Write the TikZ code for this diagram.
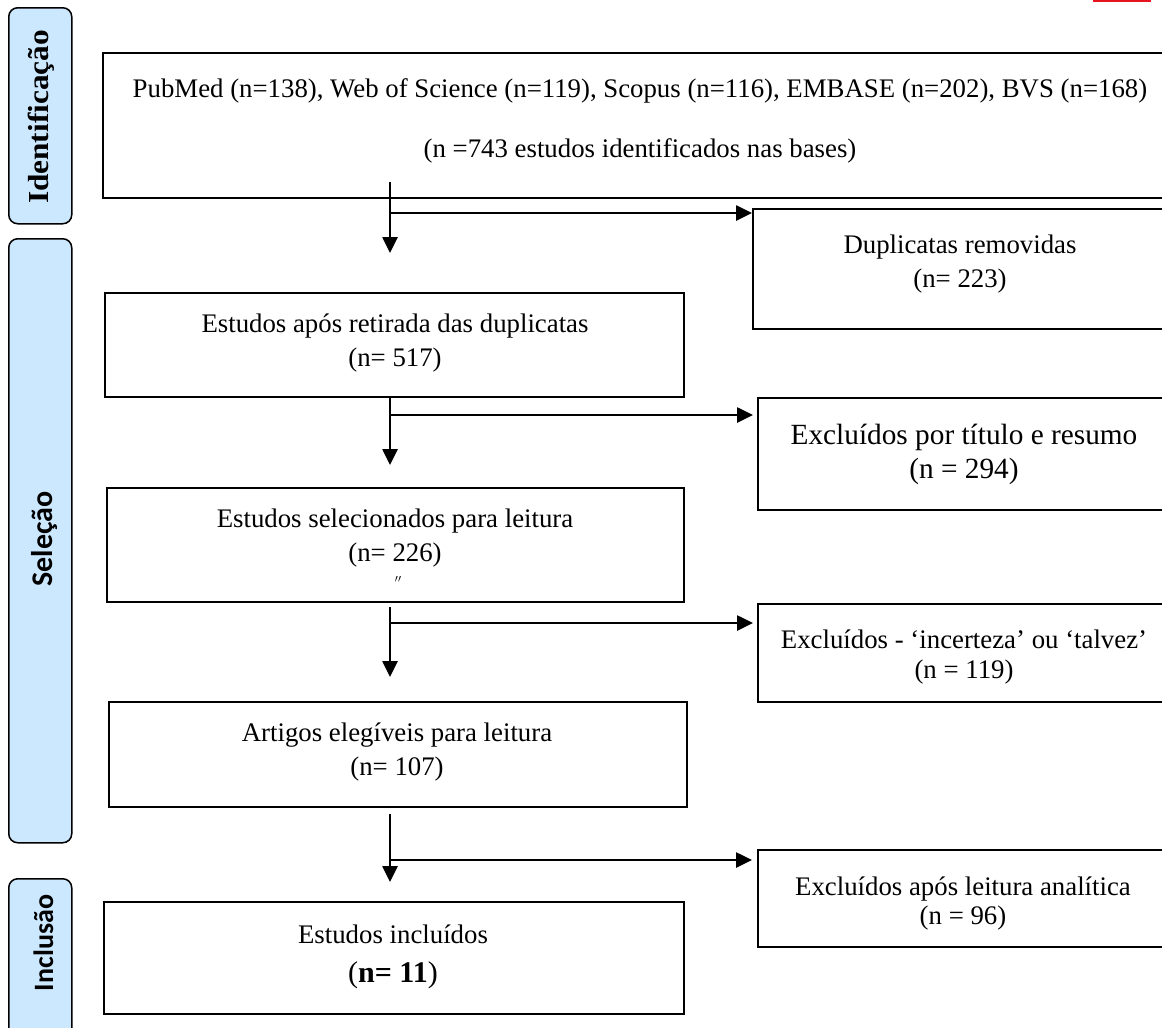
\documentclass[tikz,border=0pt]{standalone}
\usepackage{fontspec}
\setmainfont{Liberation Serif}
\newfontfamily\sidesans{Carlito}
\usetikzlibrary{arrows.meta}
\definecolor{sideblue}{RGB}{204,232,255}
\definecolor{markred}{RGB}{230,20,30}
\tikzset{
  box/.style={draw, line width=1.8pt, inner sep=0pt, anchor=north west},
  side/.style={draw, line width=1.5pt, rounded corners=9pt, fill=sideblue, inner sep=0pt, anchor=north west},
  txt/.style={anchor=base, inner sep=0pt, font=\fontsize{26.8}{30}\selectfont},
  bigtxt/.style={anchor=base, inner sep=0pt, font=\fontsize{29.3}{33}\selectfont},
  sidelabel/.style={anchor=base, inner sep=0pt, rotate=90},
  flow/.style={line width=2.6pt, -{Triangle[length=16pt,width=15pt]}},
}
\begin{document}
\begin{tikzpicture}[x=1pt,y=-1pt]
\useasboundingbox (0,0) rectangle (1162,1028);
\clip (0,0) rectangle (1162,1028);
\fill[white] (0,0) rectangle (1162,1028);

% red mark at top right
\fill[markred] (1093,-6) rectangle (1151,2);

% side bars
\node[side, minimum width=63pt, minimum height=216pt] (sid) at (8,7) {};
\node[side, minimum width=63pt, minimum height=604pt] (sse) at (8,238) {};
\node[side, minimum width=63pt, minimum height=180pt] (sin) at (8,878) {};
\node[sidelabel, font=\fontsize{29}{33}\selectfont\bfseries] (lid) at (48,117) {\scalebox{1.08}[1]{Identificação}};
\node[sidelabel, font=\sidesans\fontsize{30}{34}\selectfont\bfseries] (lse) at (52,539) {Seleção};
\node[sidelabel, font=\sidesans\fontsize{28}{32}\selectfont\bfseries] (lin) at (53,943) {Inclusão};

% main boxes
\node[box, minimum width=1076pt, minimum height=145pt] (top) at (102,52) {};
\node[txt] (top1) at (640,97) {PubMed (n=138), Web of Science (n=119), Scopus (n=116), EMBASE (n=202), BVS (n=168)};
\node[txt] (top2) at (640,157) {(n =743 estudos identificados nas bases)};

\node[box, minimum width=418pt, minimum height=120pt] (dup) at (752,208) {};
\node[txt] (dup1) at (960,253) {Duplicatas removidas};
\node[txt] (dup2) at (960,287) {(n= 223)};

\node[box, minimum width=579pt, minimum height=104pt] (b2) at (104,292) {};
\node[txt] (b2a) at (395,332) {Estudos após retirada das duplicatas};
\node[txt] (b2b) at (395,366) {(n= 517)};

\node[box, minimum width=414pt, minimum height=112pt] (ex1) at (757,397) {};
\node[bigtxt] (ex1a) at (964,444) {Excluídos por título e resumo};
\node[bigtxt] (ex1b) at (964,478) {(n = 294)};

\node[box, minimum width=577pt, minimum height=114pt] (b3) at (106,487) {};
\node[txt] (b3a) at (395,527) {Estudos selecionados para leitura};
\node[txt] (b3b) at (395,561) {(n= 226)};
\node[anchor=base, inner sep=0pt, font=\fontsize{11}{11}\selectfont] (b3c) at (398,582) {$\prime\prime$};

\node[box, minimum width=414pt, minimum height=98pt] (ex2) at (757,603) {};
\node[txt] (ex2a) at (964,648) {Excluídos - ‘incerteza’ ou ‘talvez’};
\node[txt] (ex2b) at (964,678) {(n = 119)};

\node[box, minimum width=578pt, minimum height=105pt] (b4) at (108,701) {};
\node[txt] (b4a) at (397,741) {Artigos elegíveis para leitura};
\node[txt] (b4b) at (397,775) {(n= 107)};

\node[box, minimum width=414pt, minimum height=97pt] (ex3) at (757,849) {};
\node[txt] (ex3a) at (963,895) {Excluídos após leitura analítica};
\node[txt] (ex3b) at (963,924) {(n = 96)};

\node[box, minimum width=580pt, minimum height=112pt] (b5) at (103,901) {};
\node[txt] (b5a) at (393,943) {Estudos incluídos};
\node[anchor=base, inner sep=0pt, font=\fontsize{30}{34}\selectfont] (b5b) at (393,982) {(\textbf{n= 11})};

% connectors
\coordinate (v1s) at (390,182); \coordinate (v1e) at (390,253); \coordinate (h1) at (390,213);
\draw[flow] (v1s) -- (v1e);
\draw[flow] (h1) -- (h1 -| dup.west);

\coordinate (v2s) at (390,396); \coordinate (v2e) at (390,465); \coordinate (h2) at (390,415);
\draw[flow] (v2s) -- (v2e);
\draw[flow] (h2) -- ([xshift=-4pt]h2 -| ex1.west);

\coordinate (v3s) at (390,607); \coordinate (v3e) at (390,677); \coordinate (h3) at (390,623);
\draw[flow] (v3s) -- (v3e);
\draw[flow] (h3) -- ([xshift=-4pt]h3 -| ex2.west);

\coordinate (v4s) at (390,814); \coordinate (v4e) at (390,882); \coordinate (h4) at (390,860);
\draw[flow] (v4s) -- (v4e);
\draw[flow] (h4) -- ([xshift=-5pt]h4 -| ex3.west);
\end{tikzpicture}
\end{document}
